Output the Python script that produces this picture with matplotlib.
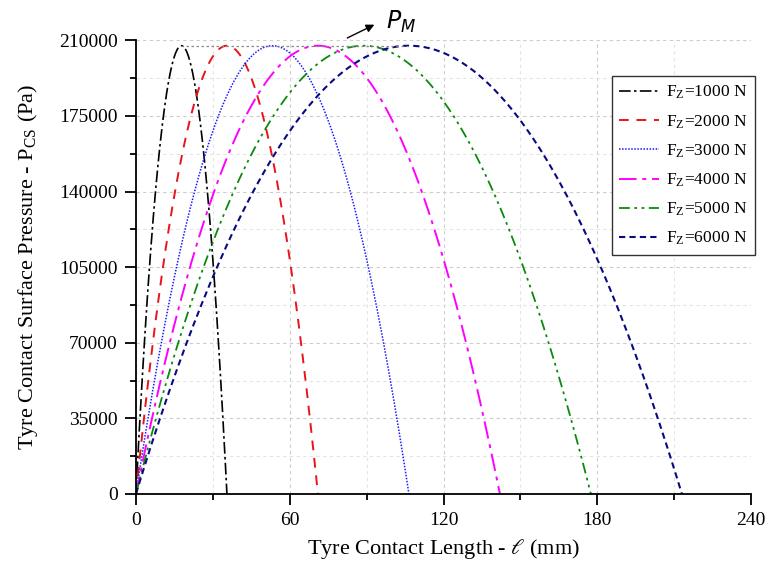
import numpy as np
import matplotlib.pyplot as plt
from matplotlib.ticker import MultipleLocator

# contact lengths (mm) for each vertical load, and peak pressure (Pa)
loads = [1000, 2000, 3000, 4000, 5000, 6000]
contact_len = [35.5, 71.0, 106.5, 142.0, 177.5, 213.0]
p_max = 207500

colors = ["black", "#e8131b", "#1a1aff", "#ff00ff", "#0a8a0a", "#0a0a80"]
styles = [(0, (7, 2, 1.5, 2)), (0, (5, 4)), (0, (1, 1)),
          (0, (9, 3, 2, 3)), (0, (6, 2.5, 1.5, 2.5, 1.5, 2.5)), (0, (3, 2))]
widths = [1.2, 1.4, 1.1, 1.4, 1.3, 1.5]

plt.rcParams["font.family"] = ["Liberation Serif", "DejaVu Serif"]
plt.rcParams["mathtext.fontset"] = "stix"

fig = plt.figure(figsize=(7.68, 5.65), dpi=100)
ax = fig.add_axes([0.177, 0.1257, 0.801, 0.803])

for F, L, c, ls, lw in zip(loads, contact_len, colors, styles, widths):
    x = np.linspace(0, L, 200)
    p = 4 * p_max * x * (L - x) / L ** 2
    ax.plot(x, p, color=c, linestyle=ls, linewidth=lw,
            label=r"F$_\mathregular{Z}$=%d N" % F)

# reference line joining the peaks
ax.plot([contact_len[0] / 2, contact_len[-1] / 2], [p_max, p_max],
        color="#888888", linestyle=(0, (2, 2)), linewidth=0.9)

ax.annotate("", xy=(94, 217800), xytext=(81.5, 210500),
            arrowprops=dict(arrowstyle="-|>", color="black", lw=1.0,
                            mutation_scale=12), annotation_clip=False)
ax.text(97.5, 218500, r"$P_M$", fontsize=17, ha="left", va="center",
        math_fontfamily="dejavusans", clip_on=False)

ax.set_xlim(0, 240)
ax.set_ylim(0, 210000)
ax.xaxis.set_major_locator(MultipleLocator(60))
ax.xaxis.set_minor_locator(MultipleLocator(30))
ax.yaxis.set_major_locator(MultipleLocator(35000))
ax.yaxis.set_minor_locator(MultipleLocator(17500))

ax.grid(which="major", color="#cccccc", linestyle=(0, (3, 3)), linewidth=0.8)
ax.grid(which="minor", color="#e4e4e4", linestyle=(0, (3, 3)), linewidth=0.8)
ax.set_axisbelow(True)

for s in ["top", "right"]:
    ax.spines[s].set_visible(False)
ax.spines["left"].set_linewidth(1.3)
ax.spines["bottom"].set_linewidth(1.3)
ax.tick_params(which="major", direction="out", length=8, width=1.3,
               labelsize=14, pad=5)
ax.tick_params(which="minor", direction="out", length=4, width=1.3)

ax.set_xlabel(r"Tyre Contact Length - $\ell$ (mm)", fontsize=16, labelpad=6)
ax.set_ylabel(r"Tyre Contact Surface Pressure - P$_\mathregular{CS}$ (Pa)",
              fontsize=16, labelpad=14)

leg = ax.legend(loc="upper right", bbox_to_anchor=(1.021, 0.94), fontsize=12.5,
                frameon=True, fancybox=False, edgecolor="#333333",
                handlelength=2.3, handletextpad=0.4, labelspacing=0.68,
                borderpad=0.45, framealpha=1)
leg.get_frame().set_linewidth(1.0)

fig.savefig("out.png", dpi=100)
